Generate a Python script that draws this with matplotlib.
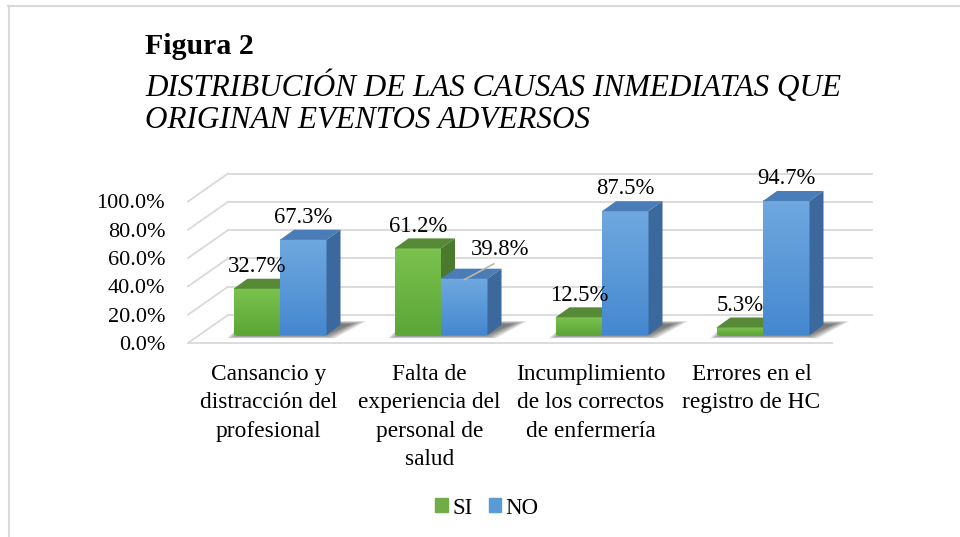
import matplotlib
matplotlib.use("Agg")
import matplotlib.pyplot as plt
from matplotlib.patches import Polygon, Patch
from matplotlib.lines import Line2D
import numpy as np

# data
categories = ["Cansancio y\ndistracción del\nprofesional",
              "Falta de\nexperiencia del\npersonal de\nsalud",
              "Incumplimiento\nde los correctos\nde enfermería",
              "Errores en el\nregistro de HC"]
si_values = [32.7, 61.2, 12.5, 5.3]
no_values = [67.3, 39.8, 87.5, 94.7]
series_names = ["SI", "NO"]
y_ticks = [0, 20, 40, 60, 80, 100]

plt.rcParams['font.family'] = ['Liberation Serif', 'DejaVu Serif']

W, H = 960, 537
fig = plt.figure(figsize=(W / 100, H / 100), dpi=100)
fig.patch.set_facecolor('white')

# outer frame, only top and left edges show in the reference
fig.add_artist(Line2D([8 / W, 1], [1 - 6 / H, 1 - 6 / H], color='#D9D9D9', lw=1.5))
fig.add_artist(Line2D([9 / W, 9 / W], [0, 1 - 6 / H], color='#D9D9D9', lw=1.5))

# titles
fig.text(145 / W, 1 - 46 / H, "Figura 2", fontsize=21.5, fontweight='bold', va='center')
fig.text(145 / W, 1 - 87 / H, "DISTRIBUCIÓN DE LAS CAUSAS INMEDIATAS QUE",
         fontsize=22.4, style='italic', va='center')
fig.text(145 / W, 1 - 120 / H, "ORIGINAN EVENTOS ADVERSOS",
         fontsize=22.4, style='italic', va='center')

# plot box: one category = 161 px, 1 % = 1.415 px, origin of bars at pixel (280, 335)
px_cat = 161.0
px_pct = 1.415
ox, oy = 280, 335
left_px, right_px, bottom_px, top_px = 186, 900, 365, 150
ax = fig.add_axes([left_px / W, 1 - bottom_px / H,
                   (right_px - left_px) / W, (bottom_px - top_px) / H])

# fake 3D depth offsets (data units)
fdx, fdy = 11.5 / px_cat, 8 / px_pct      # bar plane -> front floor edge
bdx, bdy = 28.5 / px_cat, 20 / px_pct     # bar plane -> back wall
ddx, ddy = 14 / px_cat, 10 / px_pct       # bar depth
w = 46.5 / px_cat

grid_c = '#D9D9D9'
n = len(categories)
xl, xr = -0.5, n - 0.5

# walls / grid
for v in y_ticks:
    ax.plot([xl - fdx, xl + bdx], [v - fdy, v + bdy], color=grid_c, lw=1.3, zorder=1)
    ax.plot([xl + bdx, xr + bdx], [v + bdy, v + bdy], color=grid_c, lw=1.3, zorder=1)
ax.plot([xl - fdx, xr - fdx], [-fdy, -fdy], color=grid_c, lw=1.3, zorder=1)

green = {'top': '#578A36', 'side': '#4B7A2F', 'grad': ('#7BC24F', '#5BA637')}
blue = {'top': '#4A7CB7', 'side': '#3B699D', 'grad': ('#6FA8DF', '#4588D0')}


def gradient(c_top, c_bot):
    a = np.array(matplotlib.colors.to_rgb(c_top))
    b = np.array(matplotlib.colors.to_rgb(c_bot))
    t = np.linspace(0, 1, 64)[:, None]
    return (a + (b - a) * t)[:, None, :]


def draw_bar(x0, x1, v, style, z):
    ax.imshow(gradient(*style['grad']), extent=(x0, x1, 0, v), aspect='auto',
              interpolation='bicubic', zorder=z)
    ax.add_patch(Polygon([(x0, v), (x1, v), (x1 + ddx, v + ddy), (x0 + ddx, v + ddy)],
                         closed=True, facecolor=style['top'], edgecolor='none', zorder=z))
    ax.add_patch(Polygon([(x1, 0), (x1 + ddx, ddy), (x1 + ddx, v + ddy), (x1, v)],
                         closed=True, facecolor=style['side'], edgecolor='none', zorder=z))


for i in range(n):
    # soft shadow on the floor
    for k in range(6):
        g = 0.012 * k
        ax.add_patch(Polygon([(i - w - 0.04 + g, -2.4 + k * 0.4),
                              (i + w + 0.05 - g, -2.4 + k * 0.4),
                              (i + w + ddx + 0.16 - 1.5 * g, ddy + 2.8 - k * 0.4),
                              (i - w + ddx - 0.02 + g, ddy + 2.8 - k * 0.4)],
                             closed=True, facecolor='black', alpha=0.11,
                             edgecolor='none', zorder=2))
    draw_bar(i - w, i, si_values[i], green, 3 + 2 * i)
    draw_bar(i, i + w, no_values[i], blue, 4 + 2 * i)

# value labels
for i in range(n):
    ax.annotate(f"{si_values[i]:.1f}%", xy=(i - w / 2, si_values[i]), xytext=(0, 16),
                textcoords='offset points', ha='center', va='center', fontsize=16.3, zorder=20)
    if i == 1:
        ax.annotate(f"{no_values[i]:.1f}%", xy=(i + w / 2, no_values[i] - 0.7),
                    xytext=(26, 21.5), textcoords='offset points', ha='center', va='center',
                    fontsize=16.3, zorder=20,
                    arrowprops=dict(arrowstyle='-', color='#BFB6A8', lw=1.2,
                                    relpos=(0.5, 0.0), shrinkA=1, shrinkB=0))
    else:
        ax.annotate(f"{no_values[i]:.1f}%", xy=(i + w / 2, no_values[i]), xytext=(0, 16),
                    textcoords='offset points', ha='center', va='center', fontsize=16.3,
                    zorder=20)

# category labels under the front floor edge
for i, lab in enumerate(categories):
    ax.annotate(lab, xy=(i - fdx, -fdy), xytext=(0, -15), textcoords='offset points',
                ha='center', va='top', fontsize=16.8, linespacing=1.47, annotation_clip=False)

ax.set_xlim((left_px - ox) / px_cat, (right_px - ox) / px_cat)
ax.set_ylim((oy - bottom_px) / px_pct, (oy - top_px) / px_pct)
ax.set_frame_on(False)
ax.set_xticks([])
ax.set_yticks([v - fdy for v in y_ticks], [f"{v:.1f}%" for v in y_ticks], fontsize=16)
ax.tick_params(length=0, pad=15)

fig.legend(handles=[Patch(color='#70AD47'), Patch(color='#5B9BD5')], labels=series_names,
           loc='center', bbox_to_anchor=(487 / W, 1 - 508 / H), ncol=2, frameon=False,
           fontsize=16.5, handlelength=0.55, handleheight=0.55, handletextpad=0.2,
           columnspacing=0.7, borderpad=0)

fig.savefig("out.png", dpi=100)
